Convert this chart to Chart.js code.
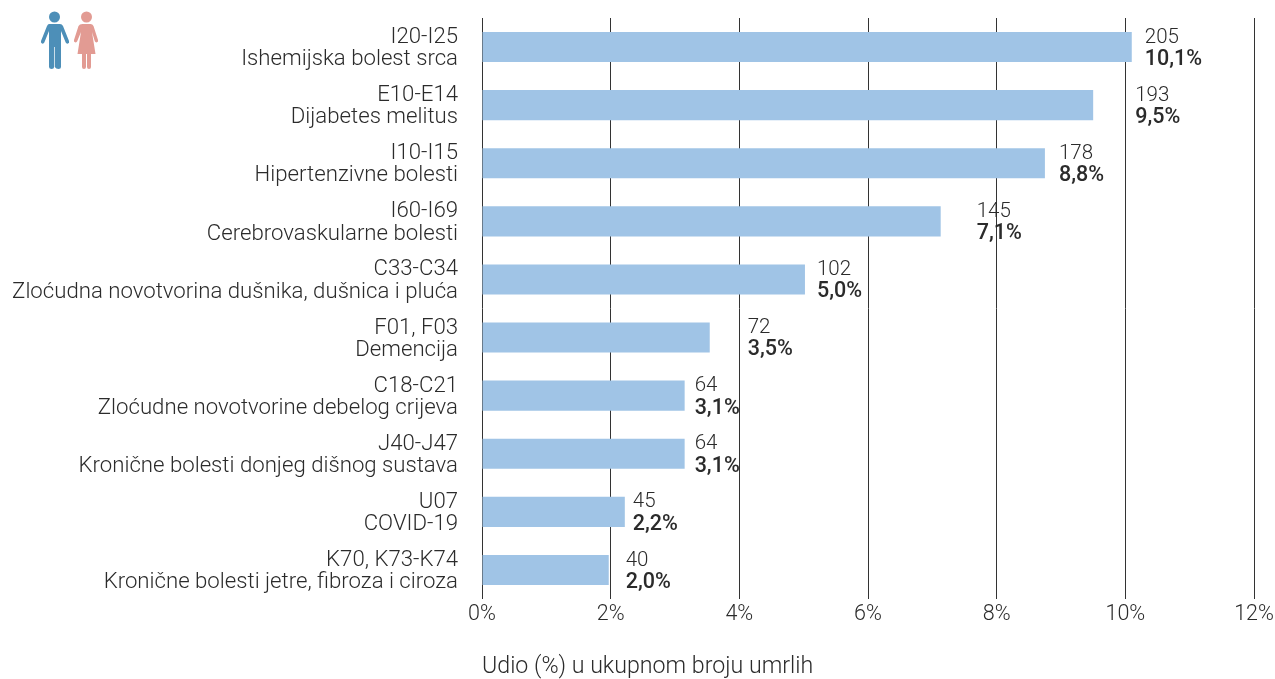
<!DOCTYPE html>
<html><head><meta charset="utf-8">
<style>html,body{margin:0;padding:0;background:#fff}#w{position:relative;width:1275px;height:679px}canvas{display:block}
svg{position:absolute;left:38px;top:10px}</style>
<script src="https://cdn.jsdelivr.net/npm/chart.js@4"></script></head><body>
<div id="w"><canvas id="c" width="1275" height="679"></canvas>
<svg width="64" height="60" viewBox="0 0 64 60">
<g fill="#4d8fb8"><circle cx="16.5" cy="7" r="5.5"/><path d="M11 14h11q2 0 3 2l6 15q.6 2-1 2.5t-2.300-1L23 21v36q0 2-2.500 2T16.800 57V37h-.7v20q0 2-2.500 2T11 57V21L6.300 32.500q-.8 1.600-2.300 1t-1-2.500l6-15q1-2 2-2z"/></g>
<g fill="#e29b93"><circle cx="48.500" cy="7" r="5.500"/><path d="M44.500 14h8q2 0 3 2l4.500 14q.5 1.800-1 2.300t-2.200-1L54 22l3.500 22H53v13q0 2-2 2t-2-2V44h-1v13q0 2-2 2t-2-2V44H39.500L43 22l-3.800 9.300q-.7 1.500-2.200 1t-1-2.300L40.500 16q1-2 4-2z"/></g>
</svg></div>
<script>
const codes = ["I20-I25","E10-E14","I10-I15","I60-I69","C33-C34","F01, F03","C18-C21","J40-J47","U07","K70, K73-K74"];
const causes = ["Ishemijska bolest srca","Dijabetes melitus","Hipertenzivne bolesti","Cerebrovaskularne bolesti","Zloćudna novotvorina dušnika, dušnica i pluća","Demencija","Zloćudne novotvorine debelog crijeva","Kronične bolesti donjeg dišnog sustava","COVID-19","Kronične bolesti jetre, fibroza i ciroza"];
const barValues = [10.1,9.5,8.75,7.13,5.02,3.54,3.15,3.15,2.22,1.97];
const counts = ["205","193","178","145","102","72","64","64","45","40"];
const shares = ["10,1%","9,5%","8,8%","7,1%","5,0%","3,5%","3,1%","3,1%","2,2%","2,0%"];
const xTicks = [0,2,4,6,8,10,12];
const axisTitle = "Udio (%) u ukupnom broju umrlih";
const labelGaps = [13,42,14,36,12,38,10,10,8,17];

const FONT = "Roboto";
const TXT = "#2b2b2b";
const labelsPlugin = {
  id:"labels",
  afterDatasetsDraw(chart){
    const ctx = chart.ctx, els = chart.getDatasetMeta(0).data;
    ctx.save();
    ctx.textAlign="left"; ctx.textBaseline="middle"; ctx.fillStyle=TXT;
    els.forEach((el,i)=>{
      const x = el.x+labelGaps[i];
      ctx.font="300 20.5px "+FONT;
      ctx.fillText(counts[i],x,el.y-9.5);
      ctx.font="500 21.5px "+FONT;
      ctx.fillText(shares[i],x,el.y+12.5);
    });
    ctx.restore();
  }
};
Chart.defaults.animation=false;
new Chart(document.getElementById("c"),{
  type:"bar",
  plugins:[labelsPlugin],
  data:{labels:codes.map((c,i)=>[c,causes[i]]),datasets:[{data:barValues,backgroundColor:"#a0c4e6",borderWidth:0,barPercentage:30/58,categoryPercentage:1}]},
  options:{
    indexAxis:"y",responsive:false,animation:false,
    layout:{padding:{top:18,right:21,left:0,bottom:0}},
    plugins:{legend:{display:false},tooltip:{enabled:false}},
    scales:{
      x:{min:0,max:12,
        afterBuildTicks(s){s.ticks=xTicks.map(v=>({value:v}));},
        afterFit(s){s.height=80;s.paddingLeft=0;s.paddingRight=0;},
        grid:{color:"#333333",lineWidth:1,drawTicks:false},
        border:{display:false},
        ticks:{padding:3,maxRotation:0,autoSkip:false,color:TXT,font:{family:FONT,size:21.5,weight:"300"},callback:v=>v+"%"},
        title:{display:true,text:axisTitle,align:"start",color:TXT,padding:{top:30,bottom:0},font:{family:FONT,size:23.2,weight:"300",lineHeight:1}}
      },
      y:{
        afterFit(s){s.width=482;s.paddingTop=0;s.paddingBottom=0;},
        grid:{display:false,drawTicks:false},
        border:{display:false},
        ticks:{padding:24,labelOffset:1.5,autoSkip:false,color:TXT,font:{family:FONT,size:22.2,weight:"300",lineHeight:1}}
      }
    }
  }
});
</script></body></html>
